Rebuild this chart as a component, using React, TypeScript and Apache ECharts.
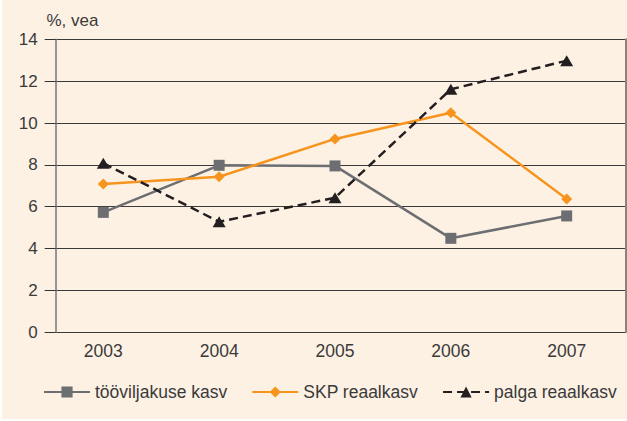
import React, { useEffect, useRef } from "react";
import * as echarts from "echarts";

const years = [2003, 2004, 2005, 2006, 2007];
const productivity = [5.73, 7.98, 7.95, 4.49, 5.56];
const gdp = [7.09, 7.43, 9.24, 10.49, 6.37];
const wages = [8.08, 5.28, 6.43, 11.61, 12.98];
const seriesNames = ["tööviljakuse kasv", "SKP reaalkasv", "palga reaalkasv"];
const yTicks = [0, 2, 4, 6, 8, 10, 12, 14];
const yTitle = "%, vea";

const FONT = "'Liberation Sans', Arial, Helvetica, sans-serif";
const TEXT = "#3a3a3a";

export default function App() {
  const ref = useRef<HTMLDivElement>(null);
  useEffect(() => {
    if (!ref.current) return;
    const chart = echarts.init(ref.current, null, { renderer: "svg" });
    const pair = (vals: number[]) => years.map((y, i) => [y, vals[i]]);
    chart.setOption({
      animation: false,
      backgroundColor: "#fdf1e4",
      textStyle: { fontFamily: FONT },
      grid: { left: 53.7, right: 1.7, top: 39.3, bottom: 86.7, containLabel: false },
      graphic: [
        {
          type: "text",
          left: 44.5,
          top: 12,
          style: { text: yTitle, fill: TEXT, font: `17px ${FONT}` },
        },
      ],
      xAxis: {
        type: "value",
        min: 2002.589,
        max: 2007.506,
        axisLine: { show: false },
        axisTick: { show: false },
        splitLine: { show: false },
        axisLabel: {
          customValues: years,
          color: TEXT,
          fontSize: 17.5,
          margin: 10,
          fontFamily: FONT,
          formatter: (v: number) => String(v),
        },
      },
      yAxis: [
        {
          type: "value",
          min: yTicks[0],
          max: yTicks[yTicks.length - 1],
          interval: 2,
          axisLine: { show: true, lineStyle: { color: "#777777", width: 1.5 } },
          axisTick: { show: true, length: 11, lineStyle: { color: "#333333", width: 1 } },
          splitLine: { show: true, lineStyle: { color: "#3a3a3a", width: 1 } },
          axisLabel: { color: TEXT, fontSize: 17, margin: 18, fontFamily: FONT },
        },
        {
          type: "value",
          position: "right",
          min: yTicks[0],
          max: yTicks[yTicks.length - 1],
          interval: 2,
          axisLine: { show: true, lineStyle: { color: "#8c8478", width: 2 } },
          axisTick: { show: false },
          splitLine: { show: false },
          axisLabel: { show: false },
        },
      ],
      legend: {
        left: 41,
        top: 383,
        width: 590,
        padding: 0,
        itemWidth: 46,
        itemHeight: 14,
        itemGap: 24,
        textStyle: { color: TEXT, fontSize: 17.5, fontFamily: FONT },
        data: seriesNames,
      },
      series: [
        {
          name: seriesNames[0],
          type: "line",
          data: pair(productivity),
          symbol: "rect",
          symbolSize: 11,
          lineStyle: { color: "#6d6e71", width: 2.5 },
          itemStyle: { color: "#6d6e71" },
          z: 3,
        },
        {
          name: seriesNames[1],
          type: "line",
          data: pair(gdp),
          symbol: "diamond",
          symbolSize: 11,
          lineStyle: { color: "#f7941d", width: 2.5 },
          itemStyle: { color: "#f7941d" },
          z: 4,
        },
        {
          name: seriesNames[2],
          type: "line",
          data: pair(wages),
          symbol: "triangle",
          symbolSize: [13, 11],
          lineStyle: { color: "#231f20", width: 2.5, type: [9, 5] },
          itemStyle: { color: "#231f20" },
          z: 5,
        },
      ],
    });
    return () => chart.dispose();
  }, []);
  return (
    <div style={{ position: "fixed", left: 0, top: 0, width: 627, height: 421, background: "#ffffff" }}>
      <div ref={ref} style={{ position: "absolute", left: 2, top: 0, width: 625, height: 419 }} />
    </div>
  );
}
